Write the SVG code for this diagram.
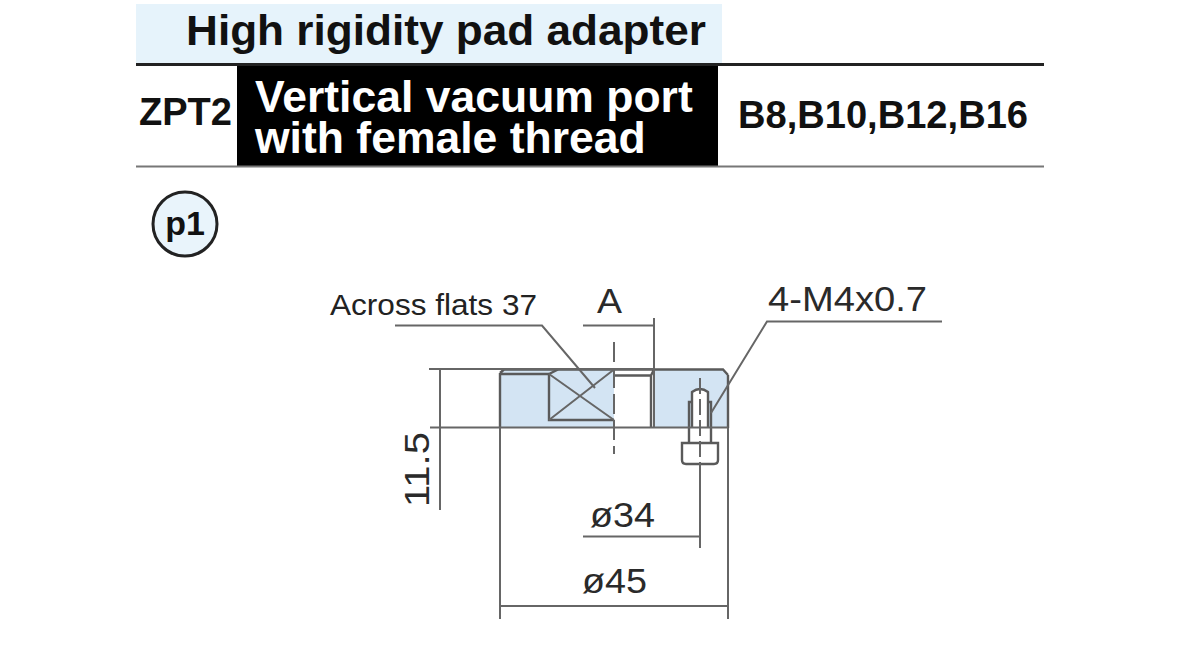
<svg xmlns="http://www.w3.org/2000/svg" width="1200" height="650" viewBox="0 0 1200 650">
<style>
text{font-family:"Liberation Sans",Arial,sans-serif}
.b{font-weight:bold;fill:#111}
.w{font-weight:bold;fill:#fff;font-size:44.500px}
.d{fill:#2a2a2a;font-size:35px}
.l{fill:none;stroke:#666;stroke-width:2}
.t{fill:none;stroke:#5a5a5a;stroke-width:2.400}
</style>
<rect width="1200" height="650" fill="#fff"/>
<g id="header">
<rect x="136" y="4" width="586" height="59" fill="#e6f3fb"/>
<text class="b" x="186" y="45" font-size="42" textLength="520" lengthAdjust="spacingAndGlyphs">High rigidity pad adapter</text>
<rect x="237" y="66" width="481" height="100" fill="#000"/>
<line x1="136" y1="64.500" x2="1044" y2="64.500" stroke="#222" stroke-width="3"/>
<line x1="136" y1="166.500" x2="1044" y2="166.500" stroke="#777" stroke-width="2"/>
<text class="b" x="139" y="125" font-size="38" textLength="93" lengthAdjust="spacingAndGlyphs">ZPT2</text>
<text class="w"><tspan x="255" y="112">Vertical vacuum port</tspan><tspan x="255" y="153">with female thread</tspan></text>
<text class="b" x="738" y="128" font-size="38" textLength="290" lengthAdjust="spacingAndGlyphs">B8,B10,B12,B16</text>
</g>
<g id="p1">
<circle cx="185" cy="224" r="32" fill="#e9f4fb" stroke="#222" stroke-width="3"/>
<text class="b" x="185" y="235" font-size="34" text-anchor="middle">p1</text>
</g>
<g id="part">
<path d="M500 373L504 369H723L728 375V428H500Z" fill="#d3e4f3"/>
<rect x="614" y="370" width="40" height="58" fill="#fff"/>
<path class="t" d="M500 373V428M728 375V428M504 369.500H723L728 375M500 373L504 369.500M500 374H549M614 375.500H651V428M651 375.500L654 369.500"/>
<path class="t" d="M549 374L558 369.500M549 374V420H614"/>
<path class="l" d="M549 374L614 420M549 420L614 369.500"/>
<path d="M692 392Q700 386 708 392V428H692Z" fill="#fff"/>
<path class="t" d="M689 443V402H692M711 443V402H708M692 428V392Q700 386 708 392V428"/>
<path class="t" d="M682 443H718V460Q718 464 714 464H686Q682 464 682 460Z" fill="#fff"/>
</g>
<g id="connectors">
<path class="l" d="M429 369H654M430 427.500H728M440 369V510"/>
<path class="l" d="M395 325.500H542L595 388"/>
<path class="l" d="M583 325.500H654M654 318V428"/>
<path class="l" d="M711 413L767 321.500H942"/>
<path class="l" d="M614 342V454" stroke-dasharray="20 6"/>
<path class="l" d="M700 378V478" stroke-dasharray="16 5"/>
<path class="l" d="M700 478V548M583 536.500H700"/>
<path class="l" d="M500 428V619M728 428V619M500 606H728"/>
</g>
<g id="labels">
<text x="330" y="315" font-size="30" fill="#222" textLength="207" lengthAdjust="spacingAndGlyphs">Across flats 37</text>
<text class="d" x="597" y="313" textLength="25" lengthAdjust="spacingAndGlyphs">A</text>
<text class="d" x="768" y="311" textLength="159" lengthAdjust="spacingAndGlyphs">4-M4x0.7</text>
<text class="d" x="590" y="527" textLength="65" lengthAdjust="spacingAndGlyphs">ø34</text>
<text class="d" x="582" y="593" textLength="65" lengthAdjust="spacingAndGlyphs">ø45</text>
<text class="d" transform="translate(429 507) rotate(-90)" textLength="75" lengthAdjust="spacingAndGlyphs">11.5</text>
</g>
</svg>
